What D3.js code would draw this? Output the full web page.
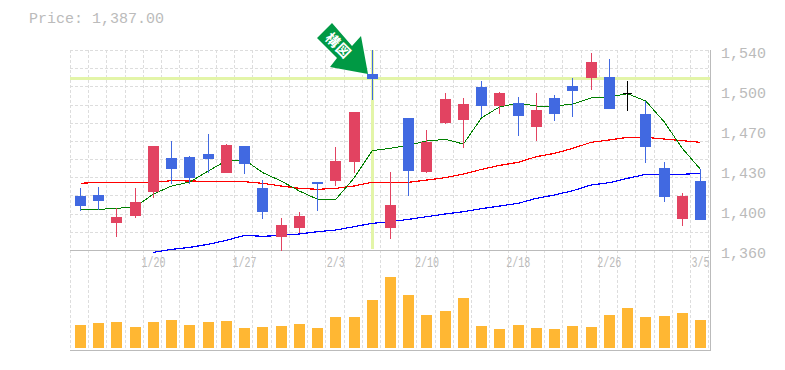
<!DOCTYPE html>
<html>
<head>
<meta charset="utf-8">
<script src="https://cdn.jsdelivr.net/npm/d3@7"></script>
<style>
  html, body { margin: 0; padding: 0; background: #fff; }
  svg { display: block; }
  text { font-family: "Liberation Mono", monospace; }
</style>
</head>
<body>
<svg id="chart"></svg>
<script>
const priceLabel = 'Price: 1,387.00';
const markerLabel = '構図';
const dates = ['1/20', '1/27', '2/3', '2/10', '2/18', '2/26', '3/5'];
const dateIndex = [4, 9, 14, 19, 24, 29, 34];
const priceTicks = [1360, 1396, 1432, 1468, 1504, 1540];
const priceTickLabels = ['1,360', '1,400', '1,430', '1,470', '1,500', '1,540'];

const open = [1408.6, 1409.5, 1384.3, 1390.6, 1412.2, 1442.8, 1443.7, 1446.4, 1429.3, 1453.6, 1415.8, 1371.7, 1379.8, 1421.2, 1422.1, 1439.2, 1518.4, 1379.8, 1478.8, 1430.2, 1474.3, 1477, 1506.7, 1489.6, 1492.3, 1470.7, 1496.8, 1507.6, 1514.8, 1515.7, 1500.9, 1482.4, 1433.8, 1387.9, 1422.1];
const high = [1415.8, 1416.7, 1397.8, 1415.8, 1453.6, 1458.1, 1444.6, 1464.4, 1455.4, 1453.6, 1423, 1388.8, 1394.2, 1421.2, 1452.7, 1484.2, 1540, 1430.2, 1478.8, 1468, 1501.3, 1496.8, 1512.1, 1502.2, 1497.7, 1501.3, 1499.5, 1514.8, 1537.3, 1531.9, 1512.1, 1494.1, 1439.2, 1411.3, 1432.9];
const low = [1395.1, 1396, 1371.7, 1388.8, 1406.8, 1419.4, 1419.4, 1429.3, 1429.3, 1428.4, 1387.9, 1359.1, 1375.3, 1395.1, 1417.6, 1429.3, 1495, 1369.9, 1408.6, 1429.3, 1473.4, 1451.8, 1479.7, 1482.4, 1462.6, 1458.1, 1476.1, 1479.7, 1504, 1486.9, 1485.1, 1438.3, 1403.2, 1381.6, 1387];
const close = [1399.6, 1404.1, 1389.7, 1403.2, 1453.6, 1432.9, 1424.8, 1441.9, 1454.5, 1437.4, 1394.2, 1382.5, 1390.6, 1419.4, 1440.1, 1484.2, 1513.9, 1400.5, 1431.1, 1457.2, 1495.9, 1491.4, 1489.6, 1501.3, 1480.6, 1486, 1482.4, 1503.1, 1529.2, 1486.9, 1500.9, 1452.7, 1407.7, 1408.6, 1387];
const volume = [23, 25, 26, 21, 26, 28, 23, 26, 27, 20, 21, 22, 24, 20, 31, 31, 48, 71, 53, 33, 37, 50, 22, 19, 23, 20, 19, 22, 21, 33, 40, 31, 32, 35, 28];

const maShort = [1396.6, 1396.6, 1397.5, 1398.7, 1410.4, 1417.6, 1421.2, 1431.1, 1440.4, 1441, 1429.6, 1422.1, 1413.1, 1405.6, 1405.6, 1424.8, 1449.4, 1451.5, 1454.5, 1458.1, 1459.6, 1455.4, 1479.1, 1489, 1492, 1489.6, 1489.6, 1491.4, 1496.8, 1497.7, 1500.7, 1494.1, 1475.5, 1451.5, 1432.6];
const maMid = [1420, 1420.9, 1420.9, 1420.9, 1420.9, 1422.4, 1422.1, 1421.8, 1421.8, 1421.5, 1420, 1417.6, 1415.5, 1414.6, 1415.5, 1417.6, 1420.9, 1420.9, 1420.9, 1423, 1425.1, 1428.4, 1432.6, 1436.2, 1438.9, 1444, 1447, 1451.5, 1456.9, 1459, 1461.4, 1461.4, 1459.9, 1458.4, 1456.9];
const maLong = [null, null, null, null, 1357.9, 1360.6, 1362.4, 1365.1, 1368.7, 1373.2, 1372.3, 1373.2, 1374.4, 1376.5, 1378, 1381, 1384, 1385.5, 1387.6, 1390, 1392.4, 1394.5, 1397.2, 1399.6, 1402, 1406.5, 1409.5, 1413.4, 1418.5, 1420.6, 1424.5, 1428.1, 1428.1, 1428.1, 1429];

const highlightIndex = 16;
const highlightPrice = 1515.7;

const svg = d3.select('#chart').attr('width', 785).attr('height', 370);

const x = d3.scaleLinear().domain([0, 34]).range([80.5, 700.5]);
const y = d3.scaleLinear().domain([1360, 1540]).range([250, 50]);
const yVol = d3.scaleLinear().domain([0, 100]).range([348, 248]);

const left = 70, right = 710, bottom = 350;
const px = v => Math.round(v);
const cx = i => Math.floor(x(i));

// Dashed grid
const grid = svg.append('g')
    .attr('stroke', '#ddd')
    .attr('stroke-dasharray', '3 2')
    .attr('shape-rendering', 'crispEdges');

grid.selectAll('line.v')
    .data(d3.range(36))
    .join('line')
    .attr('x1', i => px(x(i) - 10.5) + 0.5)
    .attr('x2', i => px(x(i) - 10.5) + 0.5)
    .attr('y1', 50)
    .attr('y2', bottom);

grid.selectAll('line.h')
    .data(d3.range(12))
    .join('line')
    .attr('x1', left)
    .attr('x2', right)
    .attr('y1', i => px(250 - i * 200 / 11) + 0.5)
    .attr('y2', i => px(250 - i * 200 / 11) + 0.5);

// Highlight cross
svg.append('rect')
    .attr('x', left).attr('width', right - left)
    .attr('y', px(y(highlightPrice))).attr('height', 3)
    .attr('fill', '#e3f5a8');
svg.append('rect')
    .attr('x', cx(highlightIndex) - 1).attr('width', 3)
    .attr('y', 50).attr('height', 199)
    .attr('fill', '#e3f5a8');

// Frame
const frame = svg.append('g').attr('stroke', '#bbb').attr('shape-rendering', 'crispEdges');
frame.append('line').attr('x1', left).attr('x2', right).attr('y1', 250.5).attr('y2', 250.5);
frame.append('line').attr('x1', left).attr('x2', right + 1).attr('y1', bottom + 0.5).attr('y2', bottom + 0.5);
frame.append('line').attr('x1', right + 0.5).attr('x2', right + 0.5).attr('y1', 50).attr('y2', bottom);

// Volume bars
svg.append('g').selectAll('rect')
    .data(volume)
    .join('rect')
    .attr('x', (d, i) => cx(i) - 5)
    .attr('width', 11)
    .attr('y', d => px(yVol(d)))
    .attr('height', d => yVol(0) - px(yVol(d)))
    .attr('fill', '#ffb733');

// Moving averages
function drawLine(values, color, width) {
    const line = d3.line()
        .defined(d => d != null)
        .x((d, i) => x(i))
        .y(d => y(d));
    svg.append('path')
        .attr('d', line(values))
        .attr('fill', 'none')
        .attr('stroke', color)
        .attr('stroke-width', width)
        .attr('shape-rendering', 'crispEdges');
}
drawLine(maLong, '#0000ff', 1.2);
drawLine(maMid, '#ff0000', 1.2);
drawLine(maShort, '#008000', 1);

// Candles
const candleColor = i => close[i] > open[i] ? '#e24361' : close[i] < open[i] ? '#4169e1' : '#000';
const candles = svg.append('g').attr('shape-rendering', 'crispEdges');

candles.selectAll('line')
    .data(open)
    .join('line')
    .attr('x1', (d, i) => cx(i) + 0.5)
    .attr('x2', (d, i) => cx(i) + 0.5)
    .attr('y1', (d, i) => y(high[i]))
    .attr('y2', (d, i) => y(low[i]))
    .attr('stroke', (d, i) => candleColor(i));

candles.selectAll('rect')
    .data(open)
    .join('rect')
    .attr('x', (d, i) => cx(i) - (open[i] === close[i] ? 4 : 5))
    .attr('width', (d, i) => open[i] === close[i] ? 9 : 11)
    .attr('y', (d, i) => px(y(Math.max(open[i], close[i]))))
    .attr('height', (d, i) => Math.max(1, px(y(Math.min(open[i], close[i]))) - px(y(Math.max(open[i], close[i])))))
    .attr('fill', (d, i) => candleColor(i));

// Arrow marker pointing at the highlighted candle, offsets measured from its tip
const tipX = cx(highlightIndex) - 4, tipY = y(highlightPrice) - 3;
const arrowShape = [[-36, -51], [-51, -36], [-31, -16], [-38, -7], [0, 0], [-7, -38], [-16, -28]];
svg.append('path')
    .attr('d', d3.line()(arrowShape.map(p => [tipX + p[0], tipY + p[1]])) + 'Z')
    .attr('fill', '#009944');
svg.append('text')
    .attr('transform', `translate(${tipX - 29},${tipY - 29}) rotate(45)`)
    .attr('text-anchor', 'middle')
    .attr('dominant-baseline', 'central')
    .attr('font-size', 14)
    .attr('font-weight', 'bold')
    .attr('letter-spacing', 1)
    .attr('fill', '#fff')
    .style('font-family', '"Noto Sans CJK JP"')
    .text(markerLabel);

// Labels
svg.append('text')
    .attr('x', 29).attr('y', 23)
    .attr('font-size', 15)
    .attr('fill', '#bbb')
    .text(priceLabel);

svg.append('g').selectAll('text')
    .data(priceTicks)
    .join('text')
    .attr('x', 721)
    .attr('y', d => y(d) + 8)
    .attr('font-size', 15)
    .attr('fill', '#bbb')
    .text((d, i) => priceTickLabels[i]);

svg.append('g').selectAll('text')
    .data(dates)
    .join('text')
    .attr('x', (d, i) => x(dateIndex[i]))
    .attr('y', 267)
    .attr('text-anchor', 'middle')
    .attr('font-size', 15)
    .attr('textLength', d => d.length * 6)
    .attr('lengthAdjust', 'spacingAndGlyphs')
    .attr('fill', '#bbb')
    .text(d => d);
</script>
</body>
</html>
